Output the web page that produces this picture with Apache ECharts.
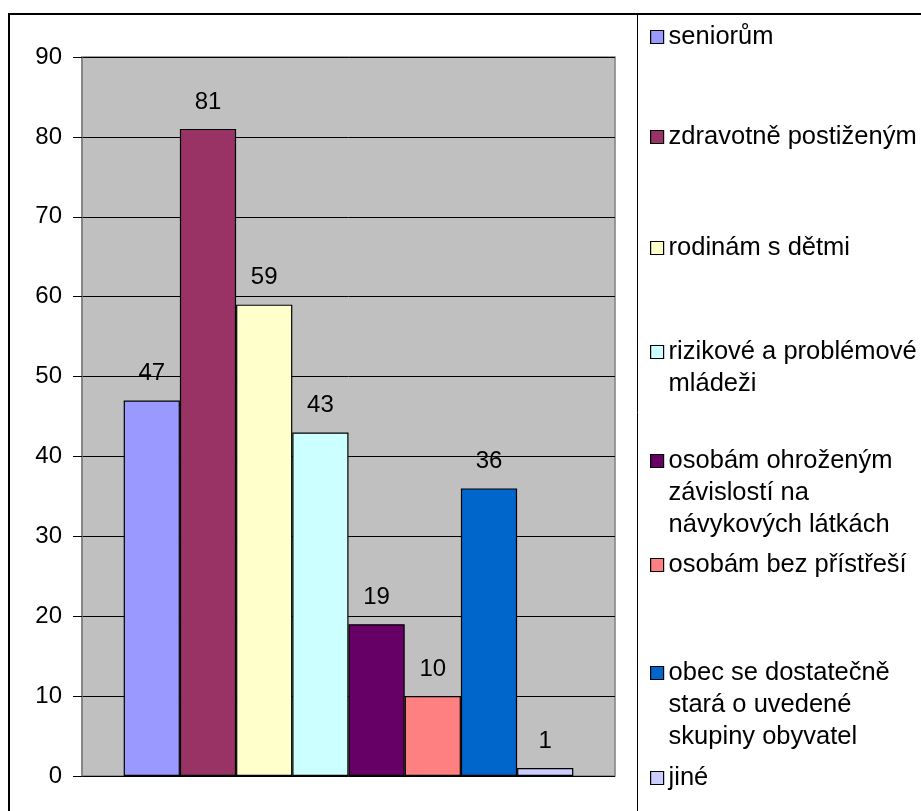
<!DOCTYPE html>
<html>
<head>
<meta charset="utf-8">
<script src="https://cdn.jsdelivr.net/npm/echarts@6/dist/echarts.min.js"></script>
<style>
html,body{margin:0;padding:0;background:#fff;}
#chart{width:921px;height:811px;}
</style>
</head>
<body>
<div id="chart"></div>
<script>
// ---- data ----
const seriesNames = [
  'seniorům',
  'zdravotně postiženým',
  'rodinám s dětmi',
  'rizikové a problémové mládeži',
  'osobám ohroženým závislostí na návykových látkách',
  'osobám bez přístřeší',
  'obec se dostatečně stará o uvedené skupiny obyvatel',
  'jiné'
];
const legendLines = [
  ['seniorům'],
  ['zdravotně postiženým'],
  ['rodinám s dětmi'],
  ['rizikové a problémové', 'mládeži'],
  ['osobám ohroženým', 'závislostí na', 'návykových látkách'],
  ['osobám bez přístřeší'],
  ['obec se dostatečně', 'stará o uvedené', 'skupiny obyvatel'],
  ['jiné']
];
const values = [47, 81, 59, 43, 19, 10, 36, 1];
const colors = ['#9999FF', '#993366', '#FFFFCC', '#CCFFFF', '#660066', '#FF8080', '#0066CC', '#CCCCFF'];
const yTicks = [0, 10, 20, 30, 40, 50, 60, 70, 80, 90];

// ---- layout (not data) ----
const FONT = "'Liberation Sans', Arial, sans-serif";
const legendFirstLineY = [37, 137, 248, 352, 461, 565, 673, 778];
const LH = 32;

const chart = echarts.init(document.getElementById('chart'), null, {renderer: 'canvas'});

const series = seriesNames.map((n, i) => ({
  name: n,
  type: 'bar',
  data: [values[i]],
  barWidth: 56.2,
  barGap: '0%',
  itemStyle: {color: colors[i], borderColor: '#000', borderWidth: 1.2},
  label: {
    show: true, position: 'top', distance: 15,
    color: '#000', fontSize: 24, fontFamily: FONT
  },
  emphasis: {disabled: true},
  animation: false
}));

const legends = seriesNames.map((n, i) => {
  const lines = legendLines[i];
  const pad = lines.length - 1;
  const total = lines.length + pad;
  const H = total * LH;
  const text = '\u00a0\n'.repeat(pad) + lines.join('\n');
  return {
    data: [n],
    orient: 'vertical',
    left: 650,
    top: legendFirstLineY[i] - H / 2,
    padding: 0,
    itemWidth: 13,
    itemHeight: 13,
    icon: 'rect',
    selectedMode: false,
    itemStyle: {borderColor: '#000', borderWidth: 1.2},
    formatter: () => text,
    textStyle: {
      fontSize: 25.5, fontFamily: FONT, color: '#000', lineHeight: LH
    }
  };
});

chart.setOption({
  animation: false,
  backgroundColor: '#fff',
  grid: {
    left: 82, top: 57, right: 306, bottom: 35,
    show: true, backgroundColor: '#C0C0C0', borderColor: '#808080', borderWidth: 1.5
  },
  xAxis: {
    type: 'category', data: [''],
    axisLine: {show: false}, axisTick: {show: false}, axisLabel: {show: false}
  },
  yAxis: {
    type: 'value', min: yTicks[0], max: yTicks[yTicks.length - 1], interval: 10,
    axisLine: {show: true, lineStyle: {color: '#808080', width: 1.5}},
    axisTick: {show: true, length: 9, lineStyle: {color: '#000'}},
    axisLabel: {margin: 20, fontSize: 24, fontFamily: FONT, color: '#000'},
    splitLine: {show: true, lineStyle: {color: '#000', width: 1}}
  },
  legend: legends,
  series: series,
  graphic: [
    {type: 'rect', shape: {x: 9, y: 14, width: 940, height: 840}, style: {fill: null, stroke: '#000', lineWidth: 2}, silent: true},
    {type: 'line', shape: {x1: 637.5, y1: 14, x2: 637.5, y2: 811}, style: {stroke: '#000', lineWidth: 1}, silent: true}
  ]
});
</script>
</body>
</html>
